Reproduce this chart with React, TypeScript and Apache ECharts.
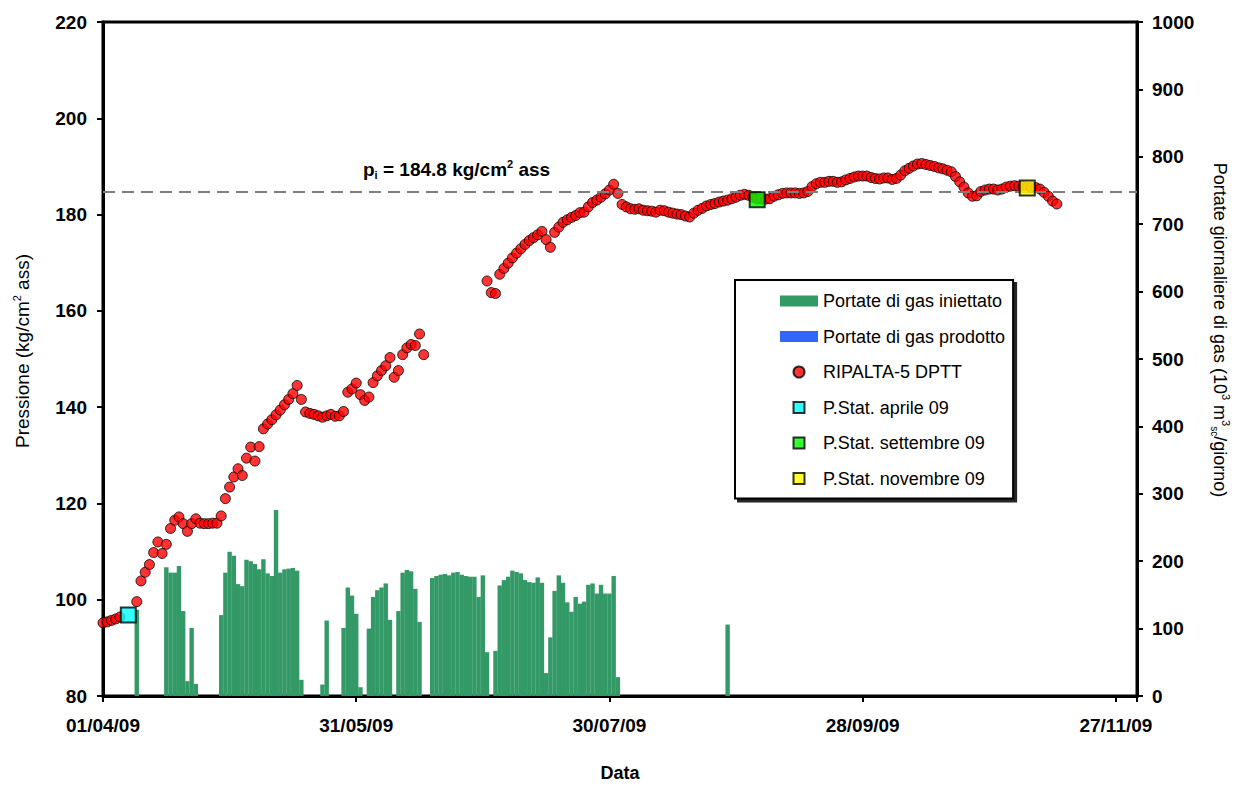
import React, { useEffect, useRef } from "react";
import * as echarts from "echarts";

// ---- data (x = days since 01/04/2009) ----
const START_UTC = Date.UTC(2009, 3, 1);
const X_MIN = 0;
const X_MAX = 245;
const X_STEP = 60;

const LEFT_MIN = 80;
const LEFT_MAX = 220;
const LEFT_STEP = 20;
const RIGHT_MIN = 0;
const RIGHT_MAX = 1000;
const RIGHT_STEP = 100;

const P_INIT = 184.8;

// RIPALTA-5 DPTT pressure, daily readings (three runs)
const pressureStartA = 0;
const pressureA = [95.2, 95.4, 95.7, 96.0, 96.4];
const pressureStartB = 8;
const pressureB = [
  99.6, 103.9, 105.7, 107.3, 109.8, 112.0, 109.6, 111.5, 114.8, 116.5, 117.2, 115.8, 114.2, 115.8, 116.8, 115.9,
  115.8, 115.8, 115.9, 115.9, 117.4, 121.0, 123.4, 125.5, 127.2, 125.8, 129.4, 131.7, 128.8, 131.8, 135.5, 136.5,
  137.4, 138.4, 139.4, 140.5, 141.6, 142.8, 144.5, 141.6, 139.0, 138.7, 138.5, 138.2, 137.9, 138.2, 138.5, 138.1,
  138.2, 139.1, 143.1, 143.8, 145.0, 142.6, 141.4, 142.1, 145.1, 146.5, 147.6, 148.6, 150.3, 146.2, 147.6, 150.9,
  152.3, 153.0, 152.8, 155.2, 150.9,
];
const pressureStartC = 91;
const pressureC = [
  166.2, 163.8, 163.6, 167.6, 168.8, 169.9, 171.0, 172.0, 172.9, 173.8, 174.6, 175.2, 175.8, 176.5, 174.8, 173.2,
  176.3, 177.4, 178.4, 178.9, 179.4, 179.8, 180.4, 180.5, 181.6, 182.5, 183.0, 183.6, 184.3, 185.1, 186.3, 184.4,
  182.1, 181.6, 181.2, 181.1, 181.2, 180.9, 180.8, 180.7, 180.5, 180.9, 180.8, 180.5, 180.3, 180.1, 180.0, 179.7,
  179.5, 180.3, 180.9, 181.3, 181.8, 182.1, 182.3, 182.6, 182.8, 183.0, 183.3, 183.6, 184.0, 184.2, 184.0, 183.6,
  183.2, 183.2, 183.2, 183.3, 183.8, 184.1, 184.4, 184.5, 184.5, 184.5, 184.4, 184.5, 184.8, 185.8, 186.4, 186.7,
  186.7, 186.9, 186.9, 186.7, 186.8, 187.2, 187.5, 187.8, 188.0, 188.0, 188.0, 187.7, 187.5, 187.4, 187.6, 187.6,
  187.3, 187.5, 188.2, 189.1, 189.6, 190.1, 190.5, 190.6, 190.4, 190.2, 190.0, 189.7, 189.5, 189.2, 188.9, 187.9,
  186.8, 185.7, 184.5, 183.8, 183.9, 184.8, 185.1, 185.3, 185.3, 185.1, 185.3, 185.7, 185.9, 186.0, 185.9, 185.8,
  185.6, 185.6, 185.6, 185.3, 184.6, 183.8, 182.8, 182.2,
];

// Static pressures [day, value]
const statAprile = [6, 96.8];
const statSettembre = [155, 183.1];
const statNovembre = [219, 185.5];

// Injected gas daily rate (10^3 m3/day)
const injDays = [
  8, 15, 16, 17, 18, 19, 20, 21, 22,
  28, 29, 30, 31, 32, 33, 34, 35, 36, 37, 38, 39, 40, 41, 42, 43, 44, 45, 46, 47,
  52, 53, 57, 58, 59, 60, 61, 63, 64, 65, 66, 67, 68, 70, 71, 72, 73, 74, 75,
  78, 79, 80, 81, 82, 83, 84, 85, 86, 87, 88, 89, 90, 91,
  93, 94, 95, 96, 97, 98, 99, 100, 101, 102, 103, 104, 105, 106, 107, 108, 109, 110,
  111, 112, 113, 114, 115, 116, 117, 118, 119, 120, 121, 122, 148,
];
const injValues = [
  128, 191, 183, 183, 193, 126, 22, 101, 18,
  120, 183, 214, 208, 166, 163, 202, 200, 196, 188, 203, 182, 178, 276, 183, 188, 189, 190, 186, 24,
  17, 112, 101, 161, 149, 122, 13, 100, 147, 157, 161, 167, 113, 126, 183, 187, 185, 159, 110,
  175, 178, 180, 181, 179, 183, 184, 180, 178, 177, 177, 147, 179, 65,
  67, 164, 172, 177, 186, 184, 182, 172, 169, 168, 176, 168, 34, 87, 156, 179, 168, 139,
  125, 147, 137, 140, 165, 167, 152, 165, 152, 152, 178, 28, 106,
];
// Produced gas: no production in the period
const prodDays: number[] = [];
const prodValues: number[] = [];

const NAME_INJ = "Portate di gas iniettato";
const NAME_PROD = "Portate di gas prodotto";
const NAME_PRESS = "RIPALTA-5 DPTT";
const NAME_APR = "P.Stat. aprile 09";
const NAME_SET = "P.Stat. settembre 09";
const NAME_NOV = "P.Stat. novembre 09";

const FONT = "'Liberation Sans', Arial, Helvetica, sans-serif";
const SQUARE_ICON = "path://M0,0 L10,0 L10,10 L0,10 Z";

function pad2(n: number) {
  return n < 10 ? "0" + n : String(n);
}
function fmtDate(day: number) {
  const dt = new Date(START_UTC + day * 86400000);
  return `${pad2(dt.getUTCDate())}/${pad2(dt.getUTCMonth() + 1)}/${String(dt.getUTCFullYear()).slice(2)}`;
}
function run(start: number, vals: number[]) {
  return vals.map((v, i) => [start + i, v]);
}

export default function App() {
  const ref = useRef<HTMLDivElement>(null);

  useEffect(() => {
    document.body.style.margin = "0";
    if (!ref.current) return;
    const chart = echarts.init(ref.current, undefined, { renderer: "svg" });

    const pressureData = [
      ...run(pressureStartA, pressureA),
      ...run(pressureStartB, pressureB),
      ...run(pressureStartC, pressureC),
    ];
    const injData = injDays.map((d, i) => [d, injValues[i]]);
    const prodData = prodDays.map((d, i) => [d, prodValues[i]]);

    const tickLabel = { fontFamily: FONT, fontSize: 19, fontWeight: "bold" as const, color: "#000" };
    const supSub = {
      sup: { fontFamily: FONT, fontSize: 11, verticalAlign: "top" as const, color: "#000", lineHeight: 12 },
      sub: { fontFamily: FONT, fontSize: 10, verticalAlign: "bottom" as const, color: "#000", lineHeight: 10 },
    };

    const squareSeries = (name: string, pt: number[], color: string) => ({
      name,
      type: "scatter",
      yAxisIndex: 0,
      symbol: "rect",
      symbolSize: 15,
      z: 5,
      itemStyle: { color, borderColor: "#000", borderWidth: 2 },
      emphasis: { disabled: true },
      data: [pt],
    });

    chart.setOption({
      animation: false,
      backgroundColor: "#fff",
      grid: {
        left: 103,
        right: 99,
        top: 22,
        bottom: 89,
        show: true,
        borderColor: "#000",
        borderWidth: 3,
        containLabel: false,
      },
      legend: {
        orient: "vertical",
        left: 735,
        top: 280,
        padding: [12, 8, 11, 45],
        itemGap: 17.5,
        itemWidth: 38,
        itemHeight: 11,
        backgroundColor: "#fff",
        borderColor: "#000",
        borderWidth: 2,
        shadowColor: "rgba(0,0,0,0.85)",
        shadowOffsetX: 3,
        shadowOffsetY: 3,
        shadowBlur: 0,
        symbolKeepAspect: true,
        selectedMode: false,
        textStyle: { fontFamily: FONT, fontSize: 18, color: "#000" },
        data: [
          { name: NAME_INJ, icon: "rect" },
          { name: NAME_PROD, icon: "rect" },
          { name: NAME_PRESS, icon: "circle" },
          { name: NAME_APR, icon: SQUARE_ICON },
          { name: NAME_SET, icon: SQUARE_ICON },
          { name: NAME_NOV, icon: SQUARE_ICON },
        ],
      },
      xAxis: {
        type: "value",
        min: X_MIN,
        max: X_MAX,
        interval: X_STEP,
        name: "Data",
        nameLocation: "middle",
        nameGap: 68,
        nameTextStyle: { fontFamily: FONT, fontSize: 18, fontWeight: "bold", color: "#000" },
        axisLine: { show: true, lineStyle: { color: "#000", width: 3 } },
        axisTick: { show: true, inside: false, length: 6, lineStyle: { color: "#000", width: 2 } },
        axisLabel: {
          ...tickLabel,
          margin: 20,
          formatter: (v: number) => (v % X_STEP === 0 ? fmtDate(v) : ""),
        },
        splitLine: { show: false },
      },
      yAxis: [
        {
          type: "value",
          position: "left",
          min: LEFT_MIN,
          max: LEFT_MAX,
          interval: LEFT_STEP,
          name: "Pressione (kg/cm{sup|2} ass)",
          nameLocation: "middle",
          nameGap: 70,
          nameTextStyle: {
            fontFamily: FONT,
            fontSize: 19,
            color: "#000",
            lineHeight: 22,
            padding: [0, 0, 0, 16],
            rich: supSub,
          },
          axisLine: { show: true, lineStyle: { color: "#000", width: 3 } },
          axisTick: { show: true, inside: false, length: 6, lineStyle: { color: "#000", width: 2 } },
          axisLabel: { ...tickLabel, margin: 16, formatter: (v: number) => String(v) },
          splitLine: { show: false },
        },
        {
          type: "value",
          position: "right",
          min: RIGHT_MIN,
          max: RIGHT_MAX,
          interval: RIGHT_STEP,
          name: "Portate giornaliere di gas (10{sup|3} m{sup|3}{sub|sc}/giorno)",
          nameLocation: "middle",
          nameRotate: -90,
          nameGap: 72,
          nameTextStyle: {
            fontFamily: FONT,
            fontSize: 18,
            color: "#000",
            lineHeight: 22,
            padding: [0, 58, 0, 0],
            rich: supSub,
          },
          axisLine: { show: true, lineStyle: { color: "#000", width: 3 } },
          axisTick: { show: true, inside: false, length: 6, lineStyle: { color: "#000", width: 2 } },
          axisLabel: { ...tickLabel, margin: 15, formatter: (v: number) => String(v) },
          splitLine: { show: false },
        },
      ],
      series: [
        {
          name: NAME_INJ,
          type: "bar",
          yAxisIndex: 1,
          stack: "flow",
          barWidth: 4.4,
          itemStyle: { color: "#339966" },
          emphasis: { disabled: true },
          data: injData,
        },
        {
          name: NAME_PROD,
          type: "bar",
          yAxisIndex: 1,
          stack: "flow",
          barWidth: 4.4,
          itemStyle: { color: "#3366ff" },
          emphasis: { disabled: true },
          data: prodData,
        },
        {
          name: NAME_PRESS,
          type: "scatter",
          yAxisIndex: 0,
          symbol: "circle",
          symbolSize: 10,
          z: 3,
          itemStyle: { color: "#ff0000", borderColor: "#000", borderWidth: 1 },
          emphasis: { disabled: true },
          data: pressureData,
          markLine: {
            silent: true,
            symbol: ["none", "none"],
            lineStyle: { color: "#7f7f7f", width: 2, type: [12, 7] },
            label: {
              show: true,
              position: "insideStartTop",
              distance: 5,
              padding: [0, 0, 6, 255],
              formatter: `{b|p}{s|i}{b| = ${P_INIT} kg/cm}{u|2}{b| ass}`,
              rich: {
                b: { fontFamily: FONT, fontSize: 19, fontWeight: "bold", color: "#000", lineHeight: 22 },
                s: { fontFamily: FONT, fontSize: 11, fontWeight: "bold", color: "#000", verticalAlign: "bottom", lineHeight: 10 },
                u: { fontFamily: FONT, fontSize: 11, fontWeight: "bold", color: "#000", verticalAlign: "top", lineHeight: 12 },
              },
            },
            data: [{ yAxis: P_INIT }],
          },
        },
        squareSeries(NAME_APR, statAprile, "#00ffff"),
        squareSeries(NAME_SET, statSettembre, "#00ff00"),
        squareSeries(NAME_NOV, statNovembre, "#ffff00"),
      ],
    });

    return () => chart.dispose();
  }, []);

  return <div ref={ref} style={{ width: 1239, height: 787 }} />;
}
